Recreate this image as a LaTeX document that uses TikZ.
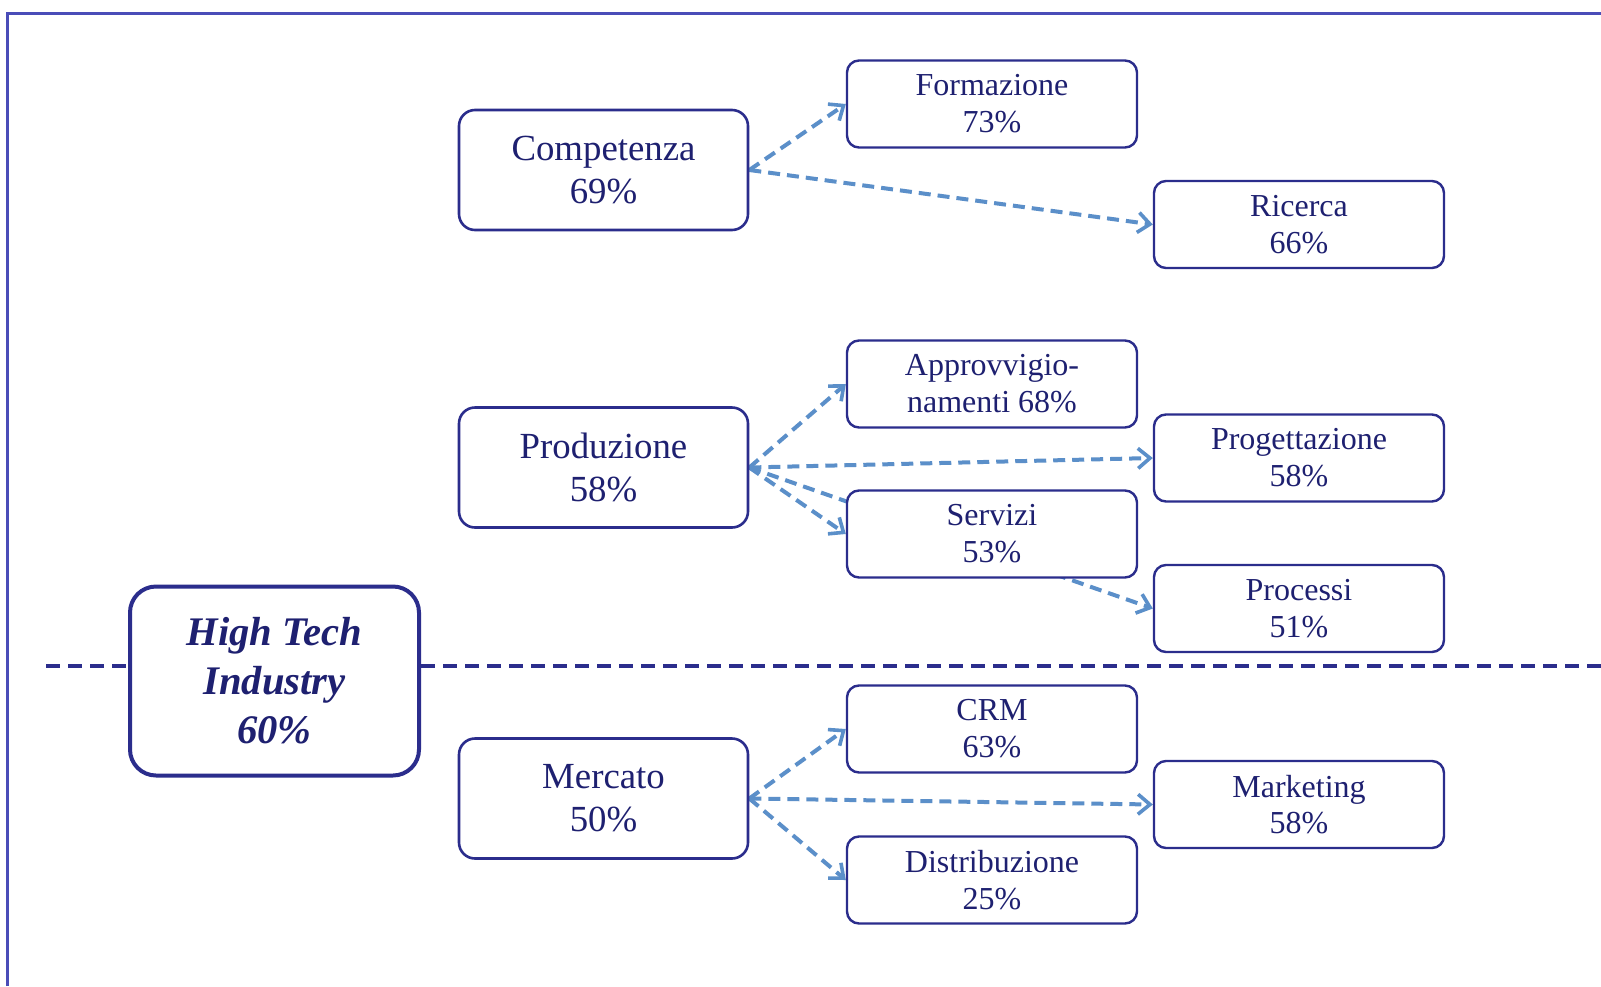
\documentclass[tikz,border=0pt]{standalone}
\usepackage{fontspec}
\setmainfont{Liberation Serif}
\usetikzlibrary{arrows.meta}
\pgfdeclarelayer{bg}
\pgfsetlayers{bg,main}
\definecolor{navy}{HTML}{2B2D8C}
\definecolor{txt}{HTML}{1E2070}
\definecolor{arr}{HTML}{5B8FC9}
\definecolor{frame}{HTML}{4A4DB8}
\tikzset{
  mainbox/.style={draw=navy, line width=1.3pt, rounded corners=8pt, fill=white,
    minimum width=144.5pt, minimum height=60pt, inner sep=0pt, align=center,
    text=txt, font=\fontsize{18.4pt}{21.5pt}\selectfont},
  subbox/.style={draw=navy, line width=1.2pt, rounded corners=6pt, fill=white,
    minimum width=145pt, minimum height=43.5pt, inner sep=0pt, align=center,
    text=txt, font=\fontsize{16pt}{18.4pt}\selectfont},
  topbox/.style={draw=navy, line width=2pt, rounded corners=13pt, fill=white,
    minimum width=144.5pt, minimum height=94.5pt, inner sep=0pt, align=center,
    text=txt, font=\fontsize{20.3pt}{24.5pt}\selectfont\bfseries\itshape},
  link/.style={draw=arr, line width=2pt, dash pattern=on 6pt off 3.5pt,
    -{Straight Barb[length=6pt,width=10pt,line width=1.8pt]}},
  divider/.style={draw=navy, line width=2pt, dash pattern=on 7pt off 4pt},
}
\begin{document}
\begin{tikzpicture}[x=0.5pt,y=-0.5pt]
\path[use as bounding box] (0,0) rectangle (1601,986);
% nodes
\node[topbox] (hti) at (274.5,681) {High Tech\\Industry\\60\%};
\node[mainbox] (comp) at (603.5,170) {Competenza\\69\%};
\node[mainbox] (prod) at (603.5,467.5) {Produzione\\58\%};
\node[mainbox] (merc) at (603.5,798.5) {Mercato\\50\%};
\node[subbox] (form) at (992,104) {Formazione\\73\%};
\node[subbox] (ric) at (1299,224.5) {Ricerca\\66\%};
\node[subbox] (appr) at (992,384) {Approvvigio-\\namenti 68\%};
\node[subbox] (prog) at (1299,458) {Progettazione\\58\%};
\node[subbox] (serv) at (992,534) {Servizi\\53\%};
\node[subbox] (proc) at (1299,608.5) {Processi\\51\%};
\node[subbox] (crm) at (992,729) {CRM\\63\%};
\node[subbox] (mkt) at (1299,804.5) {Marketing\\58\%};
\node[subbox] (dist) at (992,880) {Distribuzione\\25\%};
% divider
\coordinate (dl) at (46,666);
\coordinate (dr) at (1601,666);
\begin{pgfonlayer}{bg}
\fill[white] (0,0) rectangle (1601,986);
% frame
\draw[frame, line width=1.5pt] (7,986) -- (7,13) -- (1601,13);
\draw[divider] (dl) -- (hti.west |- dl);
\draw[divider] (hti.east |- dl) -- (dr);
\draw[link] (comp.east) -- (form.west);
\draw[link] (comp.east) -- (ric.west);
\draw[link] (prod.east) -- (appr.west);
\draw[link] (prod.east) -- (prog.west);
\draw[link] (prod.east) -- (serv.west);
\draw[link] (prod.east) -- (proc.west);
\draw[link] (merc.east) -- (crm.west);
\draw[link] (merc.east) -- (mkt.west);
\draw[link] (merc.east) -- (dist.west);
\end{pgfonlayer}
\end{tikzpicture}
\end{document}
